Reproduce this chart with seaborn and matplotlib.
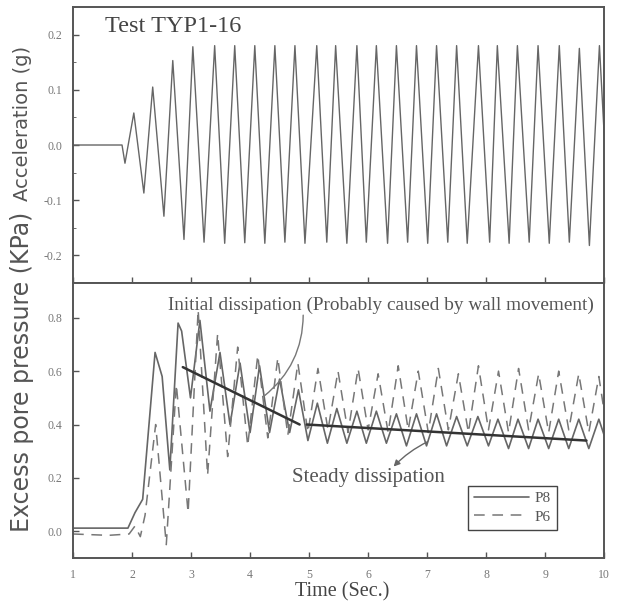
import numpy as np
import pandas as pd
import seaborn as sns
import matplotlib.pyplot as plt
from matplotlib.ticker import MultipleLocator

# acceleration record (peaks / troughs)
acc_time = [1.00, 1.83, 1.88, 2.03, 2.20, 2.35, 2.54, 2.69, 2.88, 3.03, 3.22, 3.40, 3.57, 3.74,
            3.91, 4.08, 4.25, 4.42, 4.59, 4.76, 4.93, 5.13, 5.30, 5.45, 5.64, 5.81, 5.97, 6.14,
            6.33, 6.48, 6.67, 6.82, 7.01, 7.16, 7.35, 7.50, 7.68, 7.87, 8.06, 8.19, 8.39, 8.53,
            8.73, 8.88, 9.07, 9.24, 9.41, 9.58, 9.75, 9.92, 10.0]
acc_value = [0.0, 0.0, -0.033, 0.058, -0.087, 0.105, -0.129, 0.153, -0.171, 0.178, -0.176, 0.180,
             -0.178, 0.180, -0.177, 0.180, -0.178, 0.180, -0.176, 0.180, -0.178, 0.180, -0.176,
             0.180, -0.178, 0.180, -0.176, 0.180, -0.178, 0.180, -0.176, 0.180, -0.178, 0.180,
             -0.176, 0.180, -0.178, 0.180, -0.176, 0.180, -0.178, 0.180, -0.176, 0.180, -0.178,
             0.180, -0.176, 0.175, -0.182, 0.180, 0.02]

# pore pressure P8 (solid)
p8_time = [1.00, 1.93, 2.05, 2.18, 2.39, 2.51, 2.64, 2.78, 2.84, 2.99, 3.15, 3.32, 3.49, 3.66,
           3.83, 4.00, 4.16, 4.33, 4.50, 4.67, 4.82, 4.98, 5.14, 5.31, 5.47, 5.64, 5.81, 5.97,
           6.14, 6.31, 6.48, 6.65, 6.82, 6.99, 7.16, 7.33, 7.50, 7.68, 7.86, 8.04, 8.20, 8.38,
           8.54, 8.72, 8.88, 9.06, 9.23, 9.40, 9.57, 9.74, 9.91, 10.0]
p8_value = [0.012, 0.012, 0.07, 0.12, 0.67, 0.58, 0.23, 0.78, 0.75, 0.50, 0.79, 0.45, 0.67, 0.40,
            0.63, 0.37, 0.62, 0.37, 0.57, 0.37, 0.53, 0.34, 0.48, 0.33, 0.46, 0.33, 0.45, 0.33,
            0.45, 0.33, 0.44, 0.32, 0.44, 0.32, 0.44, 0.32, 0.43, 0.32, 0.43, 0.32, 0.42, 0.31,
            0.42, 0.31, 0.42, 0.31, 0.42, 0.31, 0.42, 0.31, 0.42, 0.36]

# pore pressure P6 (dashed)
p6_time = [1.00, 1.60, 1.95, 2.05, 2.14, 2.22, 2.40, 2.58, 2.75, 2.95, 3.12, 3.28, 3.45, 3.62,
           3.79, 3.96, 4.13, 4.30, 4.47, 4.64, 4.81, 4.98, 5.15, 5.32, 5.49, 5.66, 5.83, 6.00,
           6.17, 6.34, 6.51, 6.68, 6.85, 7.02, 7.19, 7.36, 7.53, 7.70, 7.87, 8.04, 8.21, 8.38,
           8.55, 8.72, 8.89, 9.06, 9.23, 9.40, 9.57, 9.74, 9.91, 10.0]
p6_value = [-0.01, -0.015, -0.01, 0.02, -0.02, 0.06, 0.40, -0.05, 0.55, 0.07, 0.83, 0.21, 0.74,
            0.28, 0.69, 0.32, 0.66, 0.35, 0.65, 0.36, 0.63, 0.37, 0.61, 0.38, 0.60, 0.37, 0.61,
            0.38, 0.59, 0.37, 0.62, 0.38, 0.60, 0.37, 0.61, 0.38, 0.59, 0.37, 0.62, 0.38, 0.60,
            0.37, 0.61, 0.38, 0.59, 0.37, 0.60, 0.38, 0.59, 0.37, 0.58, 0.45]

# dissipation trend lines
initial_time = [2.86, 4.84]
initial_value = [0.615, 0.40]
steady_time = [4.96, 9.70]
steady_value = [0.40, 0.34]

x_ticks = [1, 2, 3, 4, 5, 6, 7, 8, 9, 10]

sns.set_style("white")
plt.rcParams['font.family'] = ['Liberation Serif', 'DejaVu Serif']

fig = plt.figure(figsize=(6.19, 6.08), dpi=100)
ax1 = fig.add_axes([0.118, 0.5345, 0.858, 0.454])
ax2 = fig.add_axes([0.118, 0.0822, 0.858, 0.4523])

line_c = '#666666'
sns.lineplot(x=acc_time, y=acc_value, ax=ax1, color=line_c, lw=1.0, estimator=None, sort=False)

sns.lineplot(x=p8_time, y=p8_value, ax=ax2, color=line_c, lw=1.2, estimator=None, sort=False,
             label='P8')
sns.lineplot(x=p6_time, y=p6_value, ax=ax2, color='#777777', lw=1.1, estimator=None, sort=False,
             label='P6', linestyle=(0, (7, 5)))
sns.lineplot(x=initial_time, y=initial_value, ax=ax2, color='#333333', lw=1.8, estimator=None)
sns.lineplot(x=steady_time, y=steady_value, ax=ax2, color='#333333', lw=1.8, estimator=None)

ax1.set_xlim(1, 10)
ax1.set_ylim(-0.25, 0.25)
ax2.set_xlim(1, 10)
ax2.set_ylim(-0.1, 0.93)

ax1.set_yticks([-0.2, -0.1, 0.0, 0.1, 0.2])
ax1.set_yticklabels(['-0.2', '-0.1', '0.0', '0.1', '0.2'])
ax1.yaxis.set_minor_locator(MultipleLocator(0.05))
ax1.set_xticks(x_ticks)
ax1.set_xticklabels([])
ax2.set_yticks([0.0, 0.2, 0.4, 0.6, 0.8])
ax2.set_yticklabels(['0.0', '0.2', '0.4', '0.6', '0.8'])
ax2.set_xticks(x_ticks)
ax2.set_xticklabels([str(v) for v in x_ticks])

for ax in (ax1, ax2):
    ax.tick_params(direction='in', length=4, width=1, color='#555555', labelsize=8.5,
                   labelcolor='#777777', left=True, bottom=True, pad=8)
    ax.tick_params(which='minor', direction='in', length=2.5, color='#555555', left=True)
    for s in ax.spines.values():
        s.set_color('#555555')
        s.set_linewidth(1.4)
    ax.set_xlabel('')
    ax.set_ylabel('')

ax1.text(0.06, 0.928, 'Test TYP1-16', transform=ax1.transAxes, fontsize=17.5, color='#444444',
         ha='left', va='center')

ax2.text(2.61, 0.845, 'Initial dissipation (Probably caused by wall movement)', fontsize=13.9,
         color='#555555', ha='left', va='center')
ax2.text(4.71, 0.20, 'Steady dissipation', fontsize=15, color='#555555', ha='left', va='center')

ax2.annotate('', xy=(4.2, 0.50), xytext=(4.9, 0.82),
             arrowprops=dict(arrowstyle='-', color='#777777', lw=1.0,
                             connectionstyle='arc3,rad=-0.25'))
ax2.annotate('', xy=(6.4, 0.235), xytext=(7.05, 0.34),
             arrowprops=dict(arrowstyle='-|>', color='#666666', lw=1.0, mutation_scale=9,
                             connectionstyle='arc3,rad=0.1'))

leg = ax2.legend(loc='lower right', bbox_to_anchor=(0.926, 0.075), fontsize=11, frameon=True,
                 fancybox=False, framealpha=1, edgecolor='#444444', handlelength=3.6,
                 borderpad=0.4, labelspacing=0.3, handletextpad=0.4)
leg.get_frame().set_linewidth(1.0)
for t in leg.get_texts():
    t.set_color('#555555')

fig.text(0.036, 1 - 123 / 608, 'Acceleration (g)', rotation=90, fontsize=14, color='#555555',
         ha='center', va='center', family='DejaVu Sans')
fig.text(0.036, 1 - 372 / 608, 'Excess pore pressure (KPa)', rotation=90, fontsize=17,
         color='#555555', ha='center', va='center', family='DejaVu Sans')
fig.text(342 / 619, 1 - 592 / 608, 'Time (Sec.)', fontsize=14.5, color='#444444',
         ha='center', va='center')

fig.savefig('out.png', dpi=100)
